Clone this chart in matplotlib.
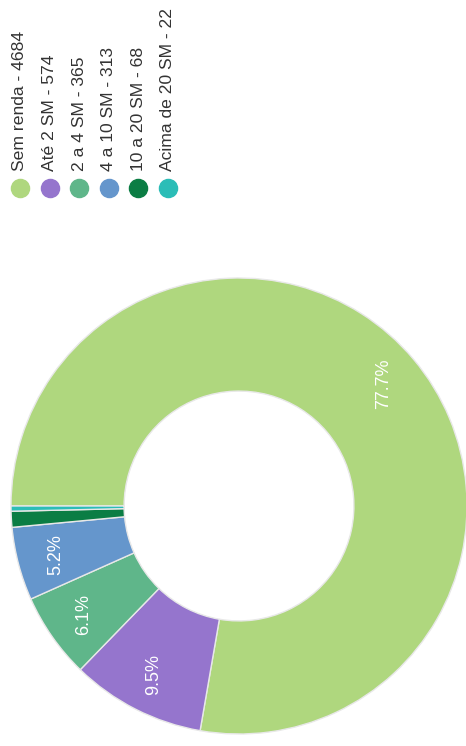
import matplotlib
matplotlib.use('Agg')
import matplotlib.pyplot as plt

categories = ['Sem renda', 'Até 2 SM', '2 a 4 SM', '4 a 10 SM', '10 a 20 SM', 'Acima de 20 SM']
values = [4684, 574, 365, 313, 68, 22]
colors = ['#afd77e', '#9575cd', '#5fb68a', '#6596cc', '#0b7d44', '#2bbdb7']

plt.rcParams['font.family'] = ['Liberation Sans', 'DejaVu Sans']

fig = plt.figure(figsize=(4.66, 7.46), dpi=100)

# donut (whole chart is rotated 90 deg ccw)
ax = fig.add_axes([11 / 466, 12 / 746, 456 / 466, 456 / 746])

def pct(p):
    return '%.1f%%' % p if p > 2 else ''

wedges, texts, autotexts = ax.pie(values, colors=colors, startangle=180, counterclock=False,
                                  autopct=pct, pctdistance=0.83, radius=1,
                                  wedgeprops=dict(width=0.496, edgecolor='#e8e8e8', linewidth=1))
for t in autotexts:
    t.set_rotation(90)
    t.set_color('white')
    t.set_fontsize(13)
    t.set_ha('center')
    t.set_va('center')
ax.set_xlim(-1, 1)
ax.set_ylim(-1, 1)
ax.axis('off')

# legend drawn by hand, rotated
lax = fig.add_axes([0, 0, 1, 1])
lax.set_xlim(0, 466)
lax.set_ylim(746, 0)
lax.axis('off')
for i, (cat, val, col) in enumerate(zip(categories, values, colors)):
    x = 20 + 29.6 * i
    lax.scatter([x], [188], s=170, color=col, zorder=3)
    lax.text(x, 171, '%s - %d' % (cat, val), rotation=90, ha='center', va='bottom',
             fontsize=12.6, color='#333333')

fig.savefig('out.png', dpi=100)
